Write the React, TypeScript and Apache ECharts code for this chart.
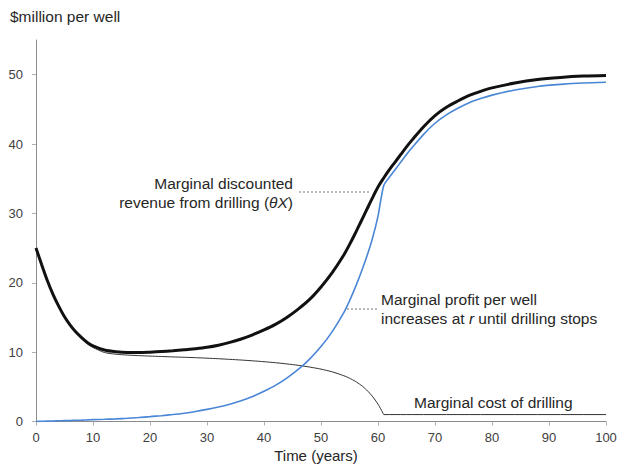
import React, { useEffect, useRef } from "react";
import * as echarts from "echarts";

// Time in years
const years = [
  0, 1, 2, 3, 4, 5, 6, 7, 8, 9, 10, 12, 14, 16, 18, 20, 22, 24, 26, 28, 30,
  32, 34, 36, 38, 40, 42, 44, 46, 48, 50, 52, 54, 55, 56, 57, 58, 59, 60, 61,
  62, 63, 64, 65, 66, 68, 70, 72, 74, 76, 78, 80, 84, 88, 92, 96, 100,
];

// Marginal discounted revenue from drilling ($m per well)
const revenue = [
  25.0, 22.6, 20.3, 18.3, 16.6, 15.1, 13.9, 12.9, 12.1, 11.4, 10.9, 10.3,
  10.05, 9.95, 9.95, 10.0, 10.08, 10.2, 10.35, 10.5, 10.7, 11.0, 11.4, 11.9,
  12.5, 13.2, 14.0, 15.0, 16.2, 17.6, 19.4, 21.5, 24.0, 25.5, 27.1, 28.8,
  30.5, 32.2, 33.8, 35.1, 36.3, 37.4, 38.5, 39.6, 40.6, 42.5, 44.1, 45.3,
  46.2, 47.0, 47.6, 48.1, 48.8, 49.3, 49.6, 49.8, 49.9,
];

// Marginal profit per well ($m)
const profit = [
  0.0, 0.03, 0.06, 0.08, 0.1, 0.13, 0.15, 0.18, 0.2, 0.23, 0.27, 0.32, 0.38,
  0.46, 0.57, 0.7, 0.84, 1.0, 1.2, 1.45, 1.75, 2.1, 2.5, 3.0, 3.6, 4.35, 5.2,
  6.25, 7.5, 9.0, 10.8, 13.0, 15.7, 17.4, 19.3, 21.4, 23.7, 26.3, 29.6, 34.0,
  35.2, 36.3, 37.4, 38.5, 39.5, 41.4, 43.0, 44.2, 45.15, 45.95, 46.55, 47.05,
  47.8, 48.3, 48.6, 48.8, 48.9,
];

// Marginal cost of drilling ($m)
const cost = [
  25.0, 22.57, 20.25, 18.23, 16.51, 14.99, 13.77, 12.75, 11.93, 11.2, 10.67,
  9.95, 9.7, 9.58, 9.5, 9.43, 9.37, 9.31, 9.26, 9.2, 9.13, 9.05, 8.96, 8.86,
  8.75, 8.62, 8.48, 8.3, 8.1, 7.85, 7.55, 7.15, 6.6, 6.25, 5.8, 5.25, 4.55,
  3.65, 2.5, 1.0, 1.0, 1.0, 1.0, 1.0, 1.0, 1.0, 1.0, 1.0, 1.0, 1.0, 1.0, 1.0,
  1.0, 1.0, 1.0, 1.0, 1.0,
];

// Year in which drilling stops (cost flattens out)
const stopYear = 61;

const yTicks = [0, 10, 20, 30, 40, 50];

const FONT = "'Liberation Sans', Arial, Helvetica, sans-serif";
const TEXT = "#262626";
const AXIS = "#8c8c8c";

const pairs = (ys: number[]) => years.map((x, i) => [x, ys[i]]);

export default function App() {
  const ref = useRef<HTMLDivElement>(null);

  useEffect(() => {
    if (!ref.current) return;
    const chart = echarts.init(ref.current, undefined, { renderer: "svg" });

    const costPts = pairs(cost);
    const costDecline = costPts.filter((p) => p[0] <= stopYear);
    const costFlat = costPts.filter((p) => p[0] >= stopYear);

    chart.setOption({
      animation: false,
      backgroundColor: "#ffffff",
      textStyle: { fontFamily: FONT },
      grid: { left: 36, right: 15, top: 40, bottom: 43.5, containLabel: false },
      xAxis: {
        type: "value",
        min: 0,
        max: 100,
        interval: 10,
        axisLine: { show: true, lineStyle: { color: AXIS, width: 1 } },
        axisTick: { show: true, length: 4, lineStyle: { color: "#b0b0b0" } },
        axisLabel: { color: "#404040", fontSize: 13, margin: 9, fontFamily: FONT },
        splitLine: { show: false },
      },
      yAxis: {
        type: "value",
        min: 0,
        max: 55,
        interval: 10,
        axisLine: { show: true, lineStyle: { color: AXIS, width: 1 } },
        axisTick: {
          show: true,
          length: 4,
          lineStyle: { color: "#b0b0b0" },
          customValues: yTicks,
        },
        axisLabel: {
          color: "#404040",
          fontSize: 13,
          margin: 13,
          fontFamily: FONT,
          customValues: yTicks,
        },
        splitLine: { show: false },
      },
      series: [
        {
          name: "Marginal cost of drilling",
          type: "line",
          data: costDecline,
          showSymbol: false,
          smooth: 0.25,
          lineStyle: { color: "#333333", width: 1 },
          z: 2,
        },
        {
          name: "Marginal cost of drilling (after stop)",
          type: "line",
          data: costFlat,
          showSymbol: false,
          smooth: false,
          lineStyle: { color: "#333333", width: 1 },
          z: 2,
        },
        {
          name: "Marginal profit per well",
          type: "line",
          data: pairs(profit),
          showSymbol: false,
          smooth: 0.25,
          lineStyle: { color: "#4a86d6", width: 1.6 },
          z: 3,
        },
        {
          name: "Marginal discounted revenue from drilling",
          type: "line",
          data: pairs(revenue),
          showSymbol: false,
          smooth: 0.3,
          lineStyle: { color: "#111111", width: 3 },
          z: 4,
        },
      ],
      graphic: [
        {
          type: "text",
          left: 10,
          top: 8,
          style: { text: "$million per well", fill: TEXT, fontSize: 15.5, fontFamily: FONT },
        },
        {
          type: "text",
          x: 316,
          y: 455,
          style: {
            text: "Time (years)",
            fill: TEXT,
            fontSize: 15,
            fontFamily: FONT,
            align: "center",
            verticalAlign: "middle",
          },
        },
        {
          type: "text",
          x: 293,
          y: 193,
          style: {
            text: "Marginal discounted\nrevenue from drilling ({it|θX})",
            fill: TEXT,
            fontSize: 15.5,
            lineHeight: 19.5,
            fontFamily: FONT,
            align: "right",
            verticalAlign: "middle",
            rich: {
              it: { fontStyle: "italic", fontSize: 15.5, fill: TEXT, fontFamily: FONT },
            },
          },
        },
        {
          type: "line",
          shape: { x1: 299, y1: 192, x2: 369, y2: 192 },
          style: { stroke: "#777777", lineWidth: 1, lineDash: [2, 2] },
        },
        {
          type: "text",
          x: 381,
          y: 309,
          style: {
            text: "Marginal profit per well\nincreases at {it|r} until drilling stops",
            fill: TEXT,
            fontSize: 15.5,
            lineHeight: 19,
            fontFamily: FONT,
            align: "left",
            verticalAlign: "middle",
            rich: {
              it: { fontStyle: "italic", fontSize: 15.5, fill: TEXT, fontFamily: FONT },
            },
          },
        },
        {
          type: "line",
          shape: { x1: 347, y1: 309, x2: 377, y2: 309 },
          style: { stroke: "#777777", lineWidth: 1, lineDash: [2, 2] },
        },
        {
          type: "text",
          x: 414,
          y: 402,
          style: {
            text: "Marginal cost of drilling",
            fill: TEXT,
            fontSize: 15.5,
            fontFamily: FONT,
            align: "left",
            verticalAlign: "middle",
          },
        },
      ],
    });

    return () => chart.dispose();
  }, []);

  return (
    <div
      ref={ref}
      style={{ position: "fixed", left: 0, top: 0, width: 621, height: 465 }}
    />
  );
}
